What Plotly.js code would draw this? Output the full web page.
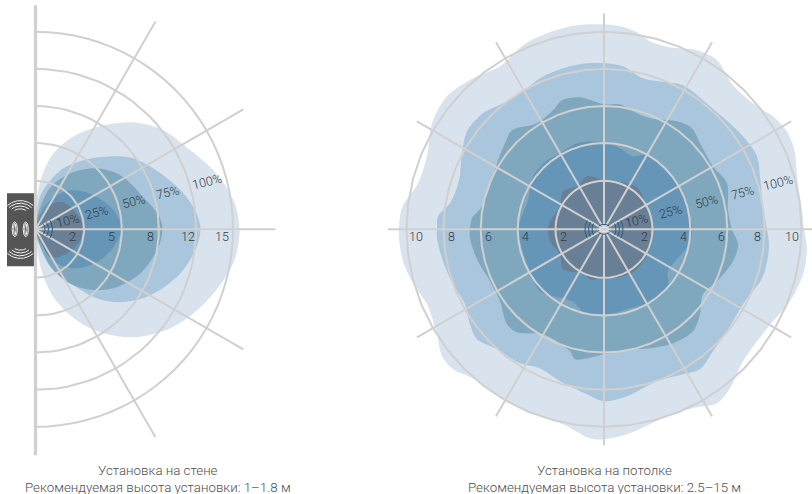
<!DOCTYPE html>
<html><head><meta charset="utf-8">
<script src="https://cdn.plot.ly/plotly-3.0.1.min.js"></script>
<style>html,body{margin:0;padding:0;background:#fff}</style></head>
<body><div id="chart" style="width:812px;height:494px"></div>
<script>
// Coverage contours, as [x, y] offsets from the sensor.
const wallA=[[0,0],[0,19],[6,52],[18,76],[40,94],[68,104],[98,107],[128,99],[151,82],[178,59],[198,29],[204,1],[200,-28],[188,-51],[165,-78],[135,-99],[98,-108],[65,-103],[41,-91],[18,-68],[6,-41],[1,-14]];
const wallB=[[0,0],[1,16],[6,36],[25,59],[48,69],[75,73],[98,71],[125,56],[148,36],[161,16],[165,1],[161,-18],[145,-44],[115,-66],[85,-73],[61,-69],[35,-54],[15,-38],[5,-18]];
const wallC=[[0,0],[3,17],[15,42],[35,56],[61,61],[85,54],[108,32],[123,14],[127,1],[123,-18],[105,-44],[81,-58],[61,-61],[38,-56],[18,-41],[5,-18]];
const wallD=[[0,0],[5,16],[18,32],[36,39],[58,34],[78,19],[86,1],[78,-18],[61,-33],[41,-39],[21,-34],[8,-18]];
const wallE=[[0,0],[5,12],[18,26],[28,27],[41,16],[48,1],[43,-14],[28,-26],[15,-28],[6,-14]];

const ceilA=[[-205,0],[-204,13],[-201,24],[-186,46],[-177,73],[-172,106],[-157,133],[-131,151],[-104,163],[-81,184],[-57,196],[-27,204],[-1,205],[16,203],[33,197],[46,188],[66,182],[93,179],[113,169],[129,144],[153,123],[169,113],[184,96],[191,76],[193,53],[198,19],[200,0],[203,-19],[199,-45],[186,-72],[169,-92],[153,-112],[139,-132],[126,-159],[113,-174],[93,-178],[69,-184],[46,-195],[23,-205],[0,-210],[-14,-209],[-41,-195],[-64,-187],[-84,-179],[-107,-165],[-131,-149],[-151,-140],[-162,-127],[-167,-105],[-177,-75],[-191,-54],[-201,-32],[-205,-9]];
const ceilB=[[-167,0],[-166,13],[-154,26],[-145,49],[-142,76],[-137,98],[-121,116],[-101,126],[-77,141],[-64,151],[-41,161],[-17,166],[0,166],[19,163],[39,151],[63,147],[79,144],[106,123],[139,93],[153,73],[156,53],[159,23],[163,0],[165,-17],[159,-47],[139,-75],[123,-102],[109,-122],[96,-140],[79,-145],[53,-152],[23,-167],[0,-172],[-17,-165],[-44,-152],[-64,-139],[-84,-134],[-107,-120],[-127,-110],[-134,-95],[-139,-75],[-151,-55],[-161,-32],[-167,-9]];
const ceilC=[[-134,0],[-132,11],[-122,23],[-114,43],[-107,66],[-99,86],[-92,99],[-67,106],[-51,119],[-42,129],[-24,132],[0,125],[16,125],[29,118],[46,111],[73,108],[88,101],[96,86],[109,63],[123,46],[124,19],[128,0],[134,-15],[129,-32],[113,-52],[99,-65],[96,-85],[89,-102],[69,-114],[46,-119],[23,-120],[0,-125],[-29,-130],[-34,-122],[-61,-105],[-87,-103],[-97,-95],[-104,-72],[-114,-52],[-127,-30],[-134,-9]];
const ceilD=[[-86,0],[-76,29],[-71,53],[-57,69],[-44,76],[-27,86],[0,87],[16,81],[29,73],[43,74],[73,46],[84,19],[88,0],[85,-15],[64,-42],[64,-58],[49,-72],[26,-79],[0,-86],[-21,-82],[-32,-72],[-64,-62],[-74,-42],[-82,-19]];
const ceilE=[[-56,0],[-54,8],[-44,23],[-41,38],[-27,43],[-17,53],[0,49],[23,46],[34,41],[41,26],[48,6],[49,0],[46,-19],[33,-40],[16,-48],[0,-49],[-14,-50],[-21,-44],[-41,-40],[-44,-25],[-54,-12]];

const levelColors=['#d9e3ee','#aac6dc','#7fa8bf','#6596b8','#687f96'];
const ringRadii=[48.5,86.3,123.3,160.5,197.5];
const wallSpokes=[-60,-30,0,30,60];
const ceilSpokes=[0,30,60,90,120,150,180,210,240,270,300,330];
const wallTicks=['2','5','8','12','15'];
const wallTickX=[37,76,115,152,186];
const ceilTicks=['2','4','6','8','10'];
const ceilTickXR=[40,79,117,153,188];
const ceilTickXL=[-41,-79,-116,-153,-188];
const pctLabels=['10%','25%','50%','75%','100%'];
const wallPctX=[32,60.5,97.5,131.5,171.5], wallPctY=[9,17,28,37,48];
const ceilPctX=[32.7,66.7,102.7,138.7,174.3], ceilPctY=[8.6,17.6,27.6,36.6,46.6];
const captions=[['Установка на стене','Рекомендуемая высота установки: 1–1.8 м'],['Установка на потолке','Рекомендуемая высота установки: 2.5–15 м']];

const GRID='#d0d0d0', TXT='#2f3a46';
const rad=d=>d*Math.PI/180;
function arc(cx,cy,r,a0,a1,ry){const xs=[],ys=[];for(let a=a0;a<=a1+1e-6;a+=(a1-a0)/48){xs.push(cx+r*Math.cos(rad(a)));ys.push(cy+(ry||r)*Math.sin(rad(a)));}return [xs,ys];}
const traces=[];
function contour(pts,color,ax){const p=pts.concat([pts[0]]);traces.push({type:'scatter',mode:'lines',xaxis:ax,yaxis:'y',x:p.map(q=>q[0]),y:p.map(q=>q[1]),fill:'toself',fillcolor:color,line:{width:0,shape:'spline',smoothing:0.9},hoverinfo:'skip'});}
function line(xs,ys,color,w,ax){traces.push({type:'scatter',mode:'lines',xaxis:ax,yaxis:'y',x:xs,y:ys,line:{color:color,width:w},hoverinfo:'skip'});}

[wallA,wallB,wallC,wallD,wallE].forEach((c,i)=>contour(c,levelColors[i],'x'));
[ceilA,ceilB,ceilC,ceilD,ceilE].forEach((c,i)=>contour(c,levelColors[i],'x2'));

ringRadii.forEach(r=>{const a=arc(0,0,r,-90,90);line(a[0],a[1],GRID,2,'x');const b=arc(0,0,r,0,360);line(b[0],b[1],GRID,2,'x2');});
wallSpokes.forEach(a=>line([0,240*Math.cos(rad(a))],[0,240*Math.sin(rad(a))],GRID,2,'x'));
ceilSpokes.forEach(a=>line([0,216*Math.cos(rad(a))],[0,216*Math.sin(rad(a))],GRID,2,'x2'));
line([0,0],[224,-226],GRID,3.2,'x');

// sensor marks at the two origins
const BLUE='#2c5a80';
[9.5,13,17].forEach(r=>{const a=arc(0,0,r,-32,32);line(a[0],a[1],BLUE,1,'x');});
[12,15.5,19].forEach(r=>{let a=arc(0,0,r,-28,28);line(a[0],a[1],BLUE,1,'x2');a=arc(0,0,r,152,208);line(a[0],a[1],BLUE,1,'x2');});
{const a=arc(0,0,4.5,0,360,2.2);line(a[0],a[1],'#dfe6eb',1.2,'x2');const b=arc(0,0,7,40,140,5);line(b[0],b[1],BLUE,1,'x2');const c=arc(0,0,7,220,320,5);line(c[0],c[1],BLUE,1,'x2');}

// wall device icon
const iconX=-15.2;
[19.4,16.8,14,11.2].forEach((r,i)=>{const h=[42,42,38,30][i];
  let a=arc(iconX,9.3,r,90-h,90+h);line(a[0],a[1],'#f2f2f2',1,'x');
  a=arc(iconX,-9.7,r,270-h,270+h);line(a[0],a[1],'#f2f2f2',1,'x');});
[-20.7,-9.7].forEach(cx=>{[[2.6,7.5],[1.2,6]].forEach(e=>{const a=arc(cx,0,e[0],0,360,e[1]);line(a[0],a[1],'#f2f2f2',1,'x');});});

const ann=[];
function lab(t,x,y,ax,ang,size){ann.push({text:t,x:x,y:y,xref:ax,yref:'y',showarrow:false,textangle:ang||0,xanchor:'center',yanchor:'middle',font:{family:'Roboto, sans-serif',size:size||12.5,color:TXT,weight:300}});}
wallTicks.forEach((t,i)=>lab(t,wallTickX[i],-7,'x'));
ceilTicks.forEach((t,i)=>{lab(t,ceilTickXR[i],-7,'x2');lab(t,ceilTickXL[i],-7,'x2');});
pctLabels.forEach((t,i)=>{lab(t,wallPctX[i],wallPctY[i],'x',-14);lab(t,ceilPctX[i],ceilPctY[i],'x2',-14);});
[158/812,604/812].forEach((x,i)=>{[470,487].forEach((py,j)=>ann.push({text:captions[i][j],x:x,y:1-py/494,xref:'paper',yref:'paper',showarrow:false,xanchor:'center',yanchor:'middle',font:{family:'Roboto, sans-serif',size:13.3,color:'#4f4f4f',weight:300}}));});

const hide={visible:false,fixedrange:true};
const layout={width:812,height:494,margin:{l:0,r:0,t:0,b:0},paper_bgcolor:'#fff',plot_bgcolor:'#fff',showlegend:false,
 xaxis:Object.assign({},hide,{domain:[0,0.45],range:[-35.5,329.9],anchor:'y'}),
 xaxis2:Object.assign({},hide,{domain:[0.45,1],range:[-238.6,208],anchor:'y'}),
 yaxis:Object.assign({},hide,{domain:[0,1],range:[-264.7,229.3]}),
 shapes:[{type:'rect',xref:'x',yref:'y',x0:-28.5,x1:-1.5,y0:36,y1:-37,fillcolor:'#555555',line:{width:0},layer:'below'}],
 annotations:ann};
Plotly.newPlot('chart',traces,layout,{displayModeBar:false,staticPlot:true});
</script></body></html>
